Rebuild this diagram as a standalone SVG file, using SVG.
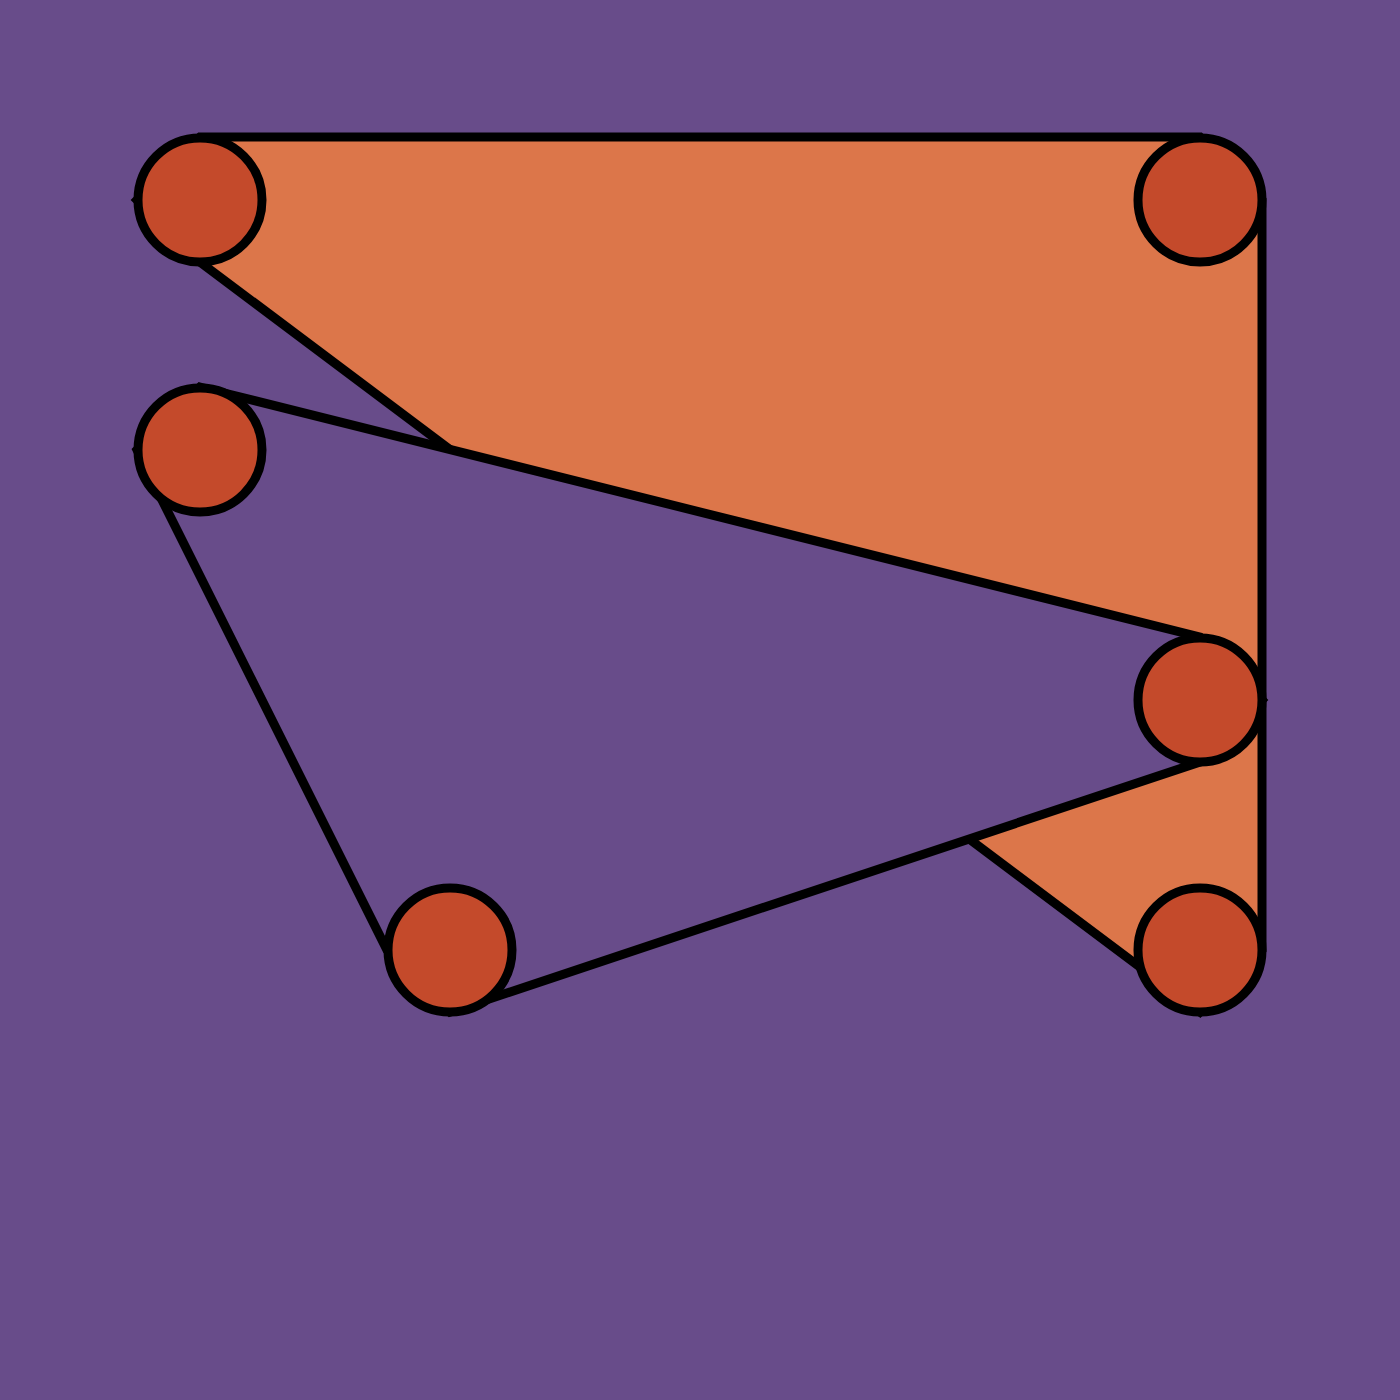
<svg xmlns="http://www.w3.org/2000/svg" width="1400" height="1400" viewBox="0 0 1400 1400">
<style>
.shape{stroke:#000;stroke-width:9;stroke-linejoin:miter;stroke-miterlimit:10}
.node{fill:#C44A2B;stroke:#000;stroke-width:9}
</style>
<rect x="0" y="0" width="1400" height="1400" fill="#684C8A"/>
<g id="connectors">
<path class="shape" fill="#DC764A" d="M200,137 L1200,137 L1262,200 L1262,700 L1262,950 L1200,1012 L200,262 L137,200 Z"/>
<path class="shape" fill="#684C8A" d="M200,387 L1200,637 L1262,700 L1200,762 L450,1012 L387,950 L137,450 Z"/>
</g>
<g id="n1"><circle class="node" cx="200" cy="200" r="62"/></g>
<g id="n2"><circle class="node" cx="1200" cy="200" r="62"/></g>
<g id="n3"><circle class="node" cx="200" cy="450" r="62"/></g>
<g id="n4"><circle class="node" cx="1200" cy="700" r="62"/></g>
<g id="n5"><circle class="node" cx="450" cy="950" r="62"/></g>
<g id="n6"><circle class="node" cx="1200" cy="950" r="62"/></g>
</svg>
